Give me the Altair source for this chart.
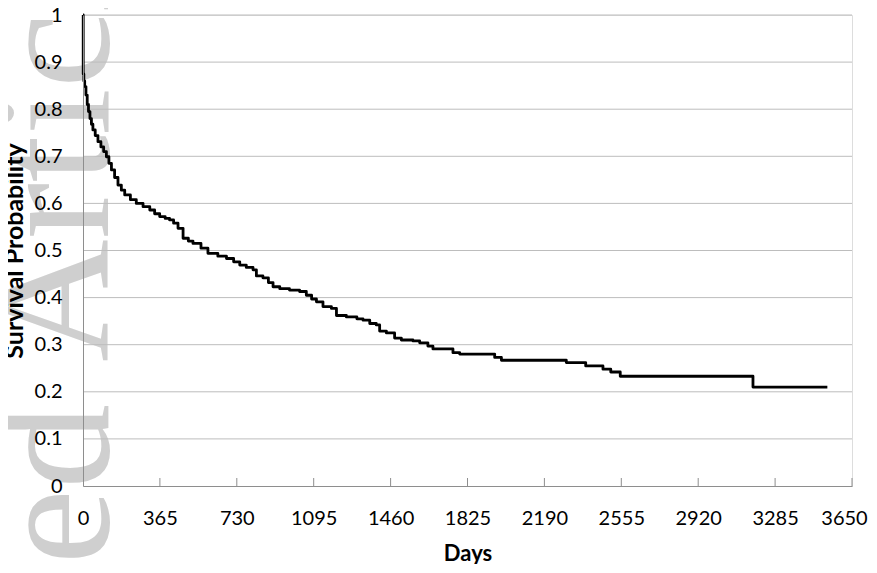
import altair as alt
import pandas as pd

# Kaplan-Meier style survival curve
days = [0, 1, 4, 8, 14, 20, 26, 33, 40, 47, 58, 71, 85, 98, 111, 123, 135, 150, 166,
        182, 198, 225, 253, 285, 317, 340, 364, 390, 411, 430, 451, 475, 500, 522,
        560, 593, 640, 681, 715, 744, 775, 807, 823, 854, 880, 902, 934, 980, 1028,
        1060, 1085, 1108, 1139, 1179, 1203, 1250, 1300, 1329, 1361, 1392, 1408, 1440,
        1479, 1511, 1566, 1598, 1637, 1661, 1756, 1788, 1954, 1986, 2294, 2386, 2468,
        2505, 2550, 3180, 3533]
survival = [1.0, 0.875, 0.86, 0.848, 0.83, 0.81, 0.795, 0.78, 0.768, 0.756, 0.744, 0.731,
            0.72, 0.71, 0.699, 0.685, 0.671, 0.655, 0.639, 0.628, 0.618, 0.608, 0.600,
            0.593, 0.586, 0.578, 0.572, 0.568, 0.565, 0.558, 0.547, 0.526, 0.52, 0.515,
            0.505, 0.494, 0.488, 0.483, 0.476, 0.469, 0.464, 0.459, 0.446, 0.442, 0.432,
            0.423, 0.419, 0.416, 0.413, 0.405, 0.397, 0.391, 0.381, 0.377, 0.362, 0.359,
            0.355, 0.352, 0.345, 0.342, 0.329, 0.325, 0.314, 0.310, 0.308, 0.304, 0.297,
            0.291, 0.283, 0.280, 0.273, 0.267, 0.262, 0.255, 0.248, 0.242, 0.233, 0.21,
            0.21]

x_ticks = [0, 365, 730, 1095, 1460, 1825, 2190, 2555, 2920, 3285, 3650]
y_ticks = [0, 0.1, 0.2, 0.3, 0.4, 0.5, 0.6, 0.7, 0.8, 0.9, 1]
watermark_words = ["Accepted", "Article"]

W, H = 769, 471
FONT = "Lato"

df = pd.DataFrame({"Days": days, "Survival": survival})
ticks_df = pd.DataFrame({"Days": x_ticks[1:]})
grid_df = pd.DataFrame({"Survival": y_ticks[1:]})

x_scale = alt.Scale(domain=[0, 3650], nice=False, zero=False)
y_scale = alt.Scale(domain=[0, 1], nice=False)

x_axis = alt.Axis(values=x_ticks, title="Days", grid=False, ticks=False,
                  format="d", zindex=1,
                  domainColor="#8e8e8e", labelFont=FONT, labelFontSize=20,
                  labelColor="#000000", labelPadding=22, labelFlush=False,
                  labelOffset=alt.condition("datum.value == 3650", alt.value(-8), alt.value(0)),
                  titleFont=FONT, titleFontSize=22, titleFontWeight="bold",
                  titleColor="#000000", titlePadding=15)
y_axis = alt.Axis(values=y_ticks, title="Survival Probability", grid=False,
                  ticks=False, domainColor="#8e8e8e", zindex=1,
                  labelFont=FONT, labelFontSize=20, labelColor="#000000",
                  labelPadding=21, labelFlush=False,
                  labelExpr="datum.value == 0 ? '0' : datum.value == 1 ? '1' : format(datum.value, '.1f')",
                  titleFont=FONT, titleFontSize=25, titleFontWeight="bold",
                  titleColor="#000000", titlePadding=7)

wm1 = alt.Chart(pd.DataFrame({"w": [watermark_words[0]]})).mark_text(
    font="Liberation Serif", fontSize=170, color="#cfcfcf", angle=270,
    align="right", baseline="alphabetic"
).encode(x=alt.value(25), y=alt.value(389), text="w:N")

wm2 = alt.Chart(pd.DataFrame({"w": [watermark_words[1]]})).mark_text(
    font="Liberation Serif", fontSize=170, color="#cfcfcf", angle=270,
    align="left", baseline="alphabetic"
).encode(x=alt.value(25), y=alt.value(347), text="w:N")

grid = alt.Chart(grid_df).mark_rule(color="#bdbdbd", strokeWidth=1).encode(
    y=alt.Y("Survival:Q", scale=y_scale, axis=y_axis), x=alt.value(0), x2=alt.value(W)
)

xticks = alt.Chart(ticks_df).mark_rule(color="#8e8e8e", strokeWidth=1).encode(
    x=alt.X("Days:Q", scale=x_scale, axis=x_axis), y=alt.value(H), y2=alt.value(H - 8)
)

curve = alt.Chart(df).mark_line(
    interpolate="step-after", color="#000000", strokeWidth=2.8, strokeJoin="round"
).encode(
    x=alt.X("Days:Q", scale=x_scale, axis=x_axis),
    y=alt.Y("Survival:Q", scale=y_scale, axis=y_axis),
)

chart = alt.layer(wm1, wm2, grid, xticks, curve).properties(
    width=W, height=H,
    padding={"left": 75, "top": 7, "right": 16, "bottom": 78},
    autosize=alt.AutoSizeParams(type="none"),
).configure_view(stroke=None).configure(background="#ffffff")

chart.save("out.html", embed_options={"renderer": "svg", "actions": False})
